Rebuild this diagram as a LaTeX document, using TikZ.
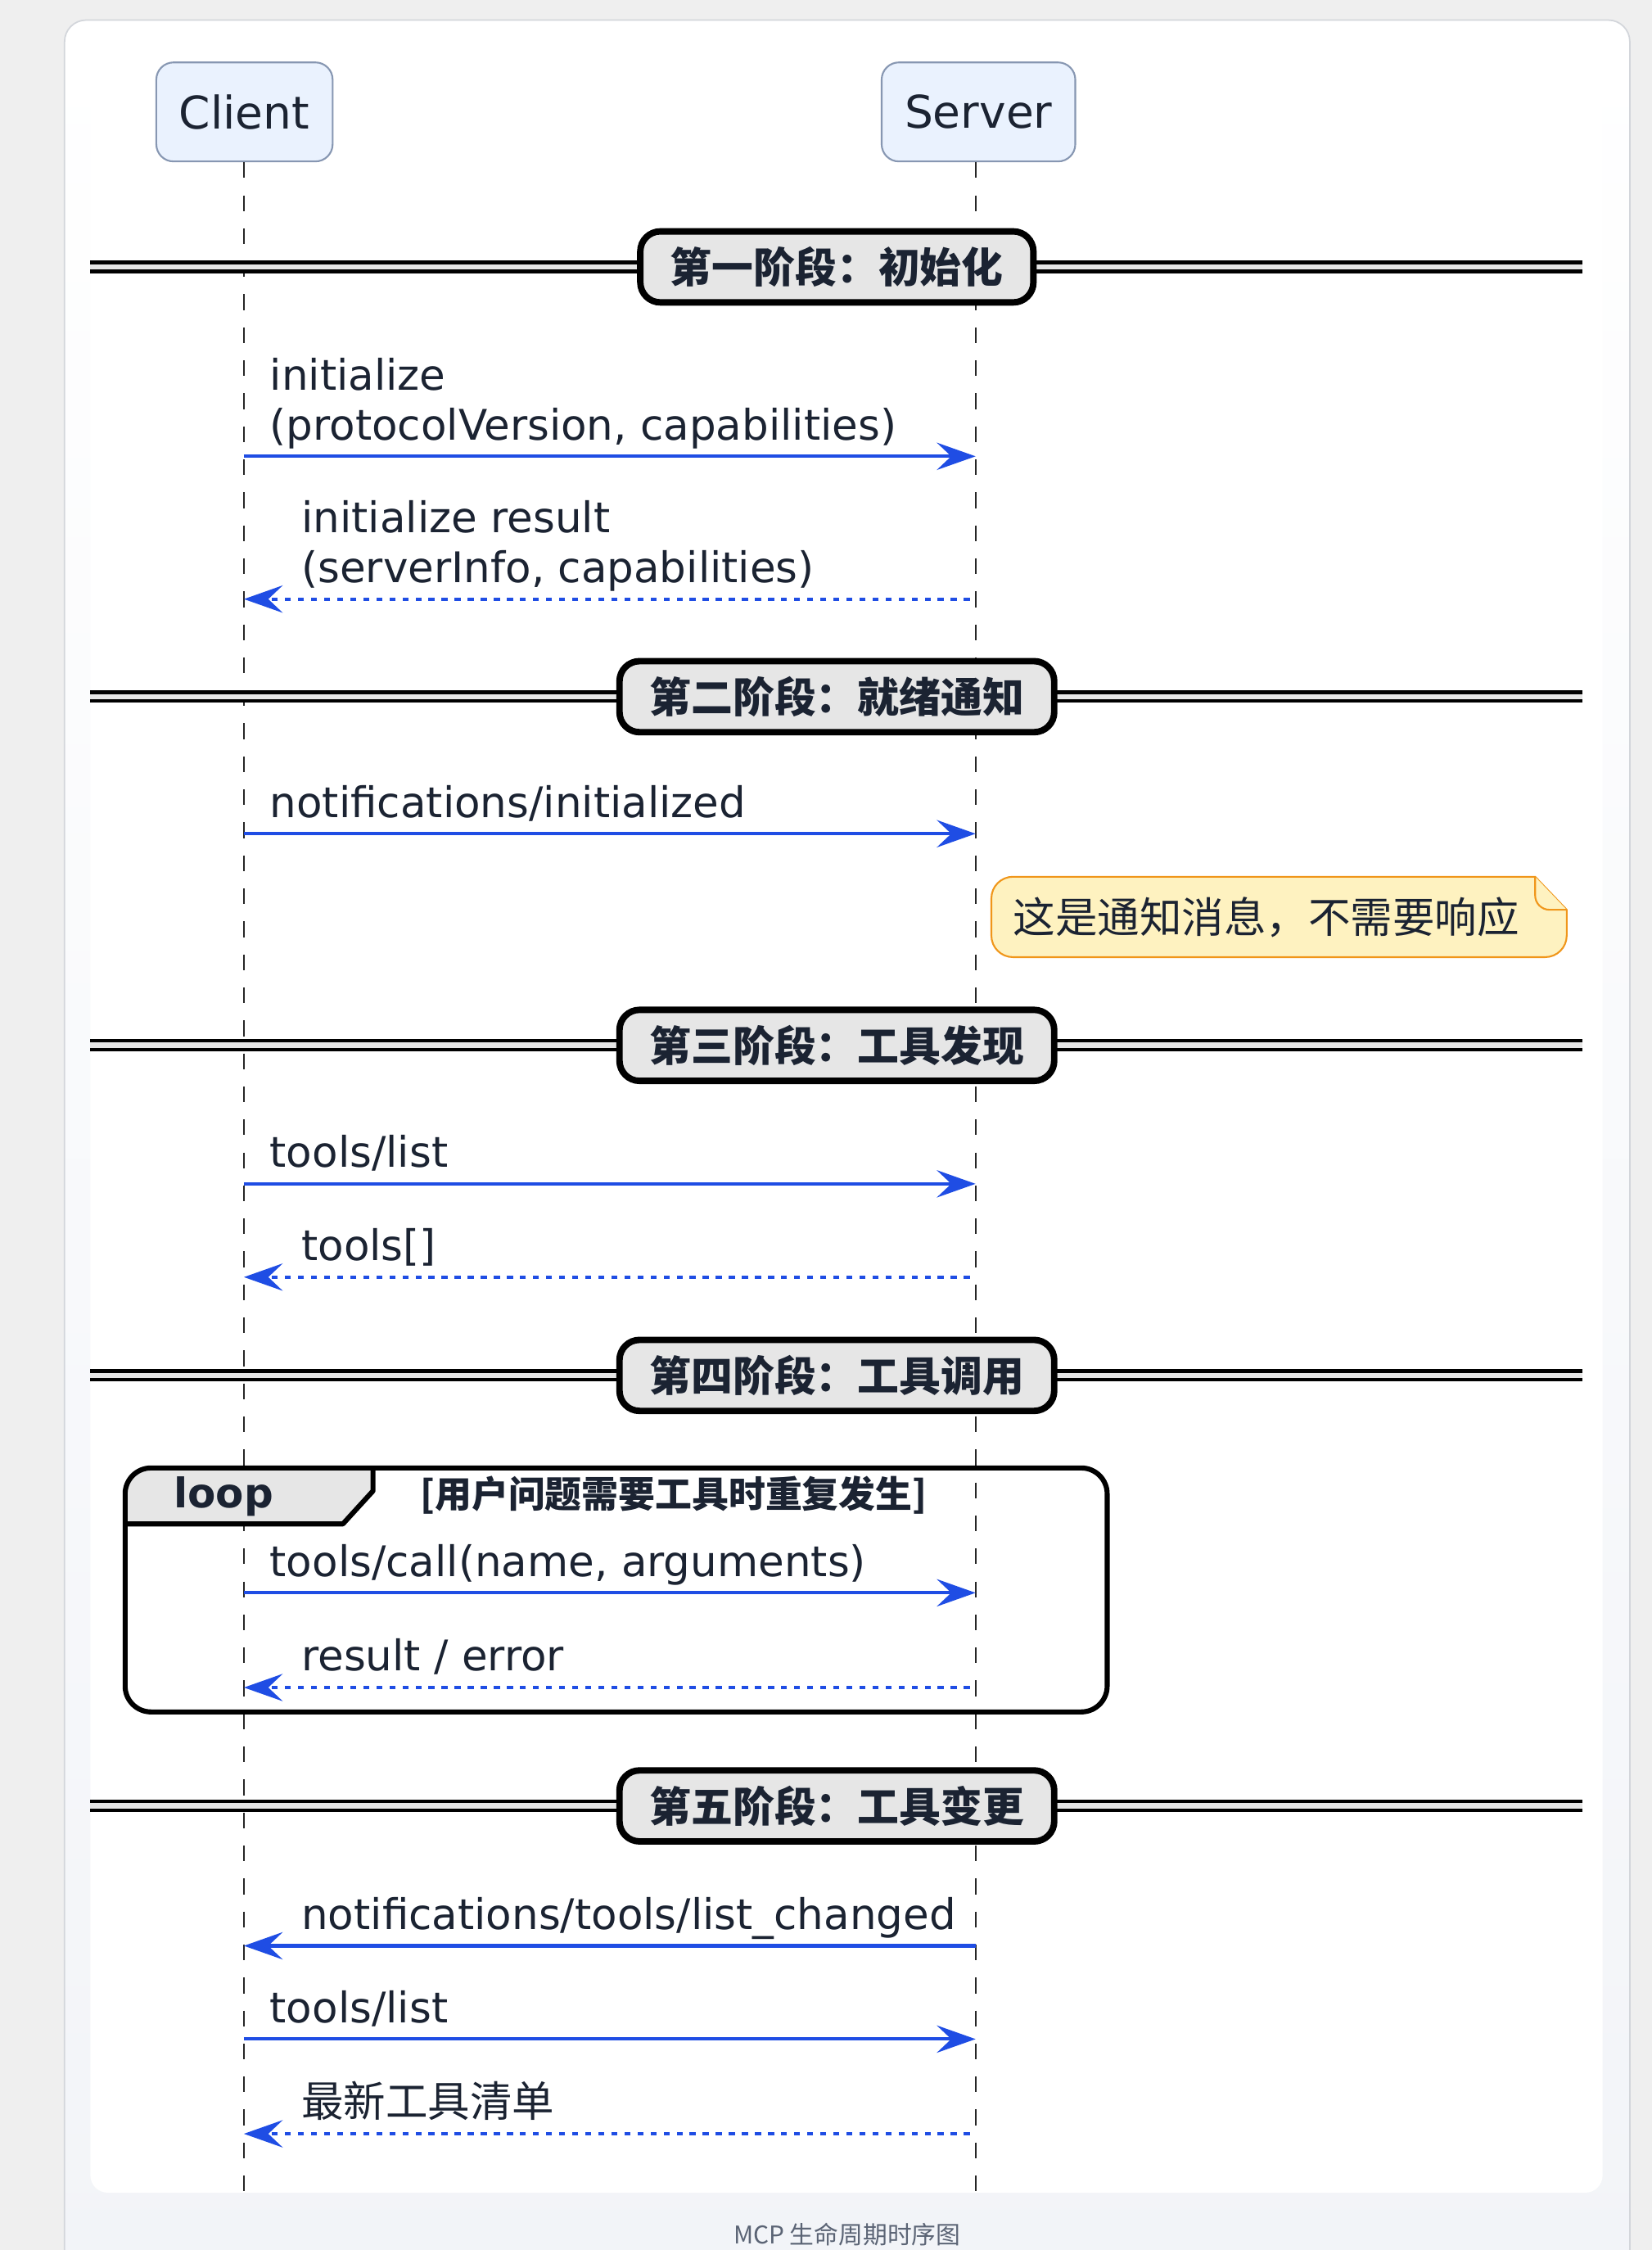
\documentclass[tikz,border=0pt]{standalone}
\usepackage{fontspec}
\setmainfont{DejaVu Sans}
\newfontfamily\cjk{Noto Sans CJK SC}
\usepackage{tikz}
\usetikzlibrary{arrows.meta,positioning}

\definecolor{ink}{HTML}{1B2332}
\definecolor{msgblue}{HTML}{1F4DE4}
\definecolor{pagebg}{HTML}{EFEFEF}
\definecolor{cardline}{HTML}{D3D6DB}
\definecolor{cardlow}{HTML}{F2F4F8}
\definecolor{actorfill}{HTML}{EAF2FE}
\definecolor{actorline}{HTML}{8797B2}
\definecolor{phasefill}{HTML}{E6E6E6}
\definecolor{notefill}{HTML}{FEF2C0}
\definecolor{noteline}{HTML}{F0961A}
\definecolor{capgray}{HTML}{5B6475}

\newcommand\msgfont{\fontsize{29.4bp}{34.6bp}\selectfont}

\begin{document}
\begin{tikzpicture}[
  x=1bp, y=-1bp,
  actor/.style    = {draw=actorline, fill=actorfill, line width=1.2bp,
                     rounded corners=12bp, minimum height=69bp,
                     inner xsep=16bp, text=ink,
                     font=\fontsize{31.4bp}{36bp}\selectfont},
  lifeline/.style = {draw=black!85, line width=1.2bp,
                     dash pattern=on 11bp off 12bp},
  rule/.style     = {draw=black, line width=2.4bp,
                     double=phasefill, double distance=3.8bp},
  phase/.style    = {draw=black, fill=phasefill, line width=4.5bp,
                     rounded corners=14bp, minimum height=49.5bp,
                     inner xsep=21bp, text=ink,
                     font=\cjk\bfseries\fontsize{29bp}{34bp}\selectfont},
  call/.style     = {draw=msgblue, line width=2.3bp,
                     -{Stealth[length=27bp, width=19bp, inset=10bp]}},
  reply/.style    = {call, dash pattern=on 4.2bp off 4.9bp, shorten <=4bp},
  msg/.style      = {anchor=base west, inner sep=0pt, yshift=11.5bp,
                     align=left, text=ink, font=\msgfont},
  sendlbl/.style  = {msg, pos=0, xshift=17bp},
  backlbl/.style  = {msg, pos=1, xshift=39bp},
  frame/.style    = {draw=black, line width=3.5bp, rounded corners=18bp}
]

% page, card and white panel
\fill[pagebg] (0,0) rectangle (1151.2,1568);
\useasboundingbox (0,0) rectangle (1151.2,1568);
\draw[draw=cardline, line width=1bp, rounded corners=15bp,
      top color=white, bottom color=cardlow] (45,14) rectangle (1136,1600);
\fill[white, rounded corners=12bp] (63,15) rectangle (1117,1528);

% participants and lifelines
\node[actor] (cli) at (170.4,78) {Client};
\node[actor] (srv) at (682,78)   {Server};
\coordinate (cliend) at (170,1528);
\coordinate (srvend) at (680,1528);
\draw[lifeline] (cli.south -| cliend) -- (cliend);
\draw[lifeline] (srv.south -| srvend) -- (srvend);

% loop frame
\begin{scope}
  \clip[rounded corners=18bp] (87.2,1023) rectangle (771.7,1193);
  \fill[phasefill] (87.2,1023) -- (260,1023) -- (260,1039) -- (239,1062) -- (87.2,1062) -- cycle;
\end{scope}
\draw[line width=3.5bp, line join=round] (260,1023) -- (260,1039) -- (239,1062) -- (87.2,1062);
\draw[frame] (87.2,1023) rectangle (771.7,1193);
\node[anchor=base west, inner sep=0pt, text=ink,
      font=\bfseries\fontsize{28.5bp}{34bp}\selectfont] (looptag) at (121,1051) {loop};
\node[base right=102bp of looptag, inner sep=0pt, text=ink,
      font=\cjk\bfseries\fontsize{25.6bp}{30bp}\selectfont] (guard) {[用户问题需要工具时重复发生]};

% phase dividers
\foreach \y/\txt [count=\i] in {186/第一阶段：初始化, 485.5/第二阶段：就绪通知,
    728.5/第三阶段：工具发现, 958.5/第四阶段：工具调用, 1258.5/第五阶段：工具变更} {
  \coordinate (L\i) at (63,\y);
  \coordinate (R\i) at (1103,\y);
  \draw[rule] (L\i) -- (R\i);
  \node[phase] (p\i) at (583.3,\y) {\txt};
}

% message anchors on the lifelines
\foreach \y [count=\i] in {318,417.5,581,825,890,1110,1176,1356,1421,1487} {
  \coordinate (c\i) at (170,\y);
  \coordinate (s\i) at (680,\y);
}

\draw[call]  (c1)  -- node[sendlbl] {initialize\\(protocolVersion, capabilities)} (s1);
\draw[reply] (s2)  -- node[backlbl] {initialize result\\(serverInfo, capabilities)} (c2);
\draw[call]  (c3)  -- node[sendlbl] {notifications/initialized} (s3);
\draw[call]  (c4)  -- node[sendlbl] {tools/list} (s4);
\draw[reply] (s5)  -- node[backlbl] {tools[]} (c5);
\draw[call]  (c6)  -- node[sendlbl] {tools/call(name, arguments)} (s6);
\draw[reply] (s7)  -- node[backlbl] {result / error} (c7);
\draw[call]  (s8)  -- node[backlbl] {notifications/tools/list\_changed} (c8);
\draw[call]  (c9)  -- node[sendlbl] {tools/list} (s9);
\draw[reply] (s10) -- node[backlbl] {\cjk 最新工具清单} (c10);

% note with folded corner
\filldraw[fill=notefill, draw=noteline, line width=1.2bp]
  (691,626) arc[start angle=180, end angle=270, radius=15]
  -- (1070,611) -- (1092,634) -- (1092,652)
  arc[start angle=0, end angle=90, radius=15]
  -- (706,667) arc[start angle=90, end angle=180, radius=15] -- cycle;
\filldraw[fill=notefill, draw=noteline, line width=1.2bp, line join=round]
  (1070,611) -- (1070,624) arc[start angle=180, end angle=90, radius=10] -- (1092,634);
\node[anchor=west, inner sep=0pt, text=ink, font=\cjk\msgfont] (note) at (706,639) {这是通知消息，不需要响应};

% caption
\node[text=capgray, font=\cjk\fontsize{17bp}{20bp}\selectfont] (cap) at (590.5,1557) {MCP 生命周期时序图};

\end{tikzpicture}
\end{document}
